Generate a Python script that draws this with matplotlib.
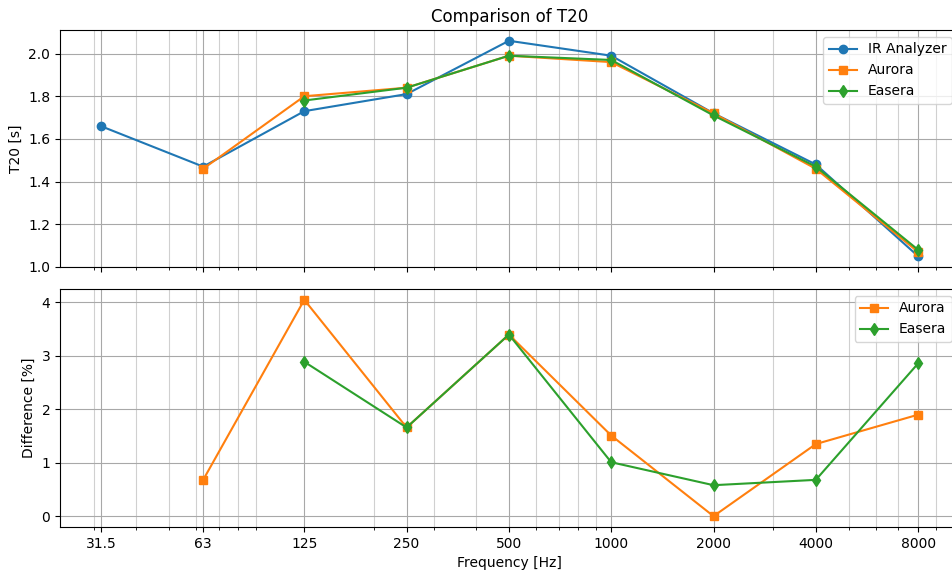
import numpy as np
import matplotlib
matplotlib.use("Agg")
import matplotlib.pyplot as plt
from matplotlib.ticker import NullFormatter

freqs = [31.5, 63, 125, 250, 500, 1000, 2000, 4000, 8000]
freq_labels = ["31.5", "63", "125", "250", "500", "1000", "2000", "4000", "8000"]

t20_ir = [1.66, 1.47, 1.73, 1.81, 2.06, 1.99, 1.72, 1.48, 1.05]
t20_aurora = [np.nan, 1.46, 1.80, 1.84, 1.99, 1.96, 1.72, 1.46, 1.07]
t20_easera = [np.nan, np.nan, 1.78, 1.84, 1.99, 1.97, 1.71, 1.47, 1.08]

diff_aurora = [np.nan, 0.68, 4.05, 1.66, 3.40, 1.51, 0.0, 1.35, 1.90]
diff_easera = [np.nan, np.nan, 2.89, 1.66, 3.40, 1.01, 0.58, 0.68, 2.86]

fig = plt.figure(figsize=(9.53, 5.71), dpi=100)
left = 60 / 953
width = 899 / 953
ax1 = fig.add_axes([left, 1 - 267 / 571, width, (267 - 30) / 571])
ax2 = fig.add_axes([left, 1 - 527 / 571, width, (527 - 289) / 571], sharex=ax1)

ax1.plot(freqs, t20_ir, marker='o', label='IR Analyzer')
ax1.plot(freqs, t20_aurora, marker='s', label='Aurora')
ax1.plot(freqs, t20_easera, marker='d', label='Easera')
ax1.set_xscale('log')
ax1.set_ylabel('T20 [s]')
ax1.set_title('Comparison of T20')
ax1.legend(loc='upper right')

ax2.plot(freqs, diff_aurora, marker='s', color='C1', label='Aurora')
ax2.plot(freqs, diff_easera, marker='d', color='C2', label='Easera')
ax2.set_ylabel('Difference [%]')
ax2.set_xlabel('Frequency [Hz]')
ax2.legend(loc='upper right')

ax2.set_xticks(freqs)
ax2.set_xticklabels(freq_labels)
ax2.xaxis.set_minor_formatter(NullFormatter())
plt.setp(ax1.get_xticklabels(), visible=False)

for ax in (ax1, ax2):
    ax.grid(True, which='major', color='#a8a8a8', linewidth=0.8)
    ax.grid(True, which='minor', color='#d0d0d0', linewidth=0.8)

fig.savefig('out.png', dpi=100)
